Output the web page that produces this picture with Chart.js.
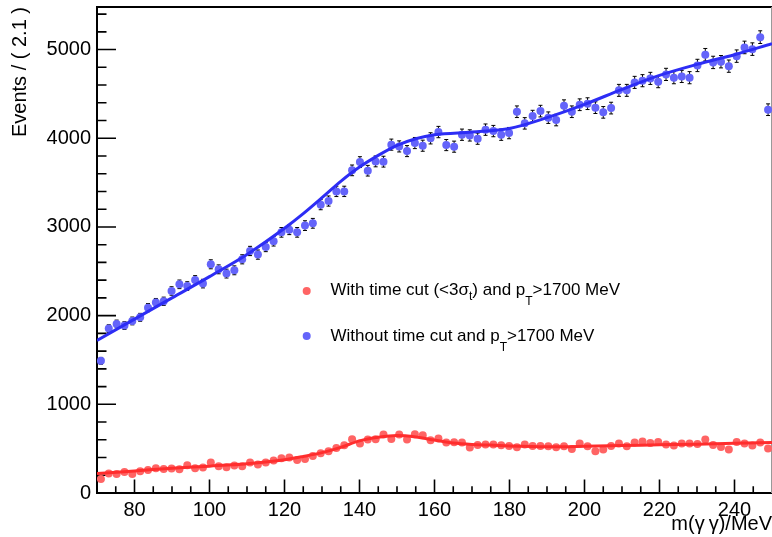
<!DOCTYPE html>
<html>
<head>
<meta charset="utf-8">
<script src="https://cdn.jsdelivr.net/npm/chart.js@4/dist/chart.umd.min.js"></script>
<style>
  html, body { margin: 0; padding: 0; background: #ffffff; }
  #wrap { width: 772px; height: 537px; }
</style>
</head>
<body>
<div id="wrap"><canvas id="c" width="772" height="537"></canvas></div>
<script>
// Diphoton invariant mass histogram: 86 bins between 70 and 250 MeV
const massLow = 70;
const massHigh = 250;
const nBins = 86;
const binCentres = Array.from({ length: nBins }, (_, i) => massLow + (i + 0.5) * (massHigh - massLow) / nBins);

// Events per bin, with the time cut (<3 sigma_t) and pT > 1700 MeV
const countsWithCut = [
  159, 220, 215, 238, 215, 246, 260, 280, 272, 276,
  268, 313, 280, 287, 344, 302, 291, 310, 302, 344,
  321, 344, 366, 392, 400, 373, 384, 418, 448, 470,
  508, 539, 606, 558, 603, 606, 659, 610, 659, 603,
  663, 651, 595, 614, 569, 573, 569, 513, 542, 547,
  547, 539, 531, 516, 547, 531, 531, 527, 517, 527,
  497, 558, 527, 471, 490, 531, 558, 527, 569, 580,
  565, 576, 547, 535, 558, 558, 553, 603, 542, 520,
  490, 576, 558, 535, 569, 501
];

// Events per bin, without the time cut, pT > 1700 MeV
const countsNoCut = [
  1490, 1854, 1906, 1888, 1940, 1981, 2090, 2147, 2162, 2278,
  2353, 2334, 2402, 2361, 2579, 2522, 2474, 2511, 2635, 2729,
  2688, 2774, 2838, 2939, 2968, 2939, 3015, 3041, 3251, 3292,
  3401, 3401, 3638, 3731, 3634, 3739, 3736, 3928, 3908, 3855,
  3946, 3916, 3999, 4070, 3923, 3905, 4040, 4032, 3995, 4097,
  4081, 4040, 4058, 4299, 4168, 4250, 4306, 4232, 4205, 4367,
  4299, 4378, 4390, 4345, 4292, 4340, 4540, 4540, 4630, 4649,
  4675, 4638, 4720, 4683, 4697, 4683, 4821, 4942, 4855, 4863,
  4813, 4926, 5024, 5005, 5140, 4322
];

// Fitted model curves (sampled along the mass axis)
const fitWithCutMass = [70, 80, 90, 100, 110, 120, 125, 130, 135, 140, 145, 150, 155, 160, 165, 170, 175, 180, 190, 200, 210, 220, 230, 240, 250];
const fitWithCutEvents = [220, 249, 280, 303, 330, 375, 412, 455, 515, 588, 628, 648, 632, 597, 563, 547, 540, 531, 522, 527, 535, 543, 551, 560, 570];

const fitNoCutMass = [70, 80, 90, 100, 110, 120, 125, 130, 135, 140, 145, 150, 155, 160, 170, 180, 190, 200, 210, 220, 230, 240, 250];
const fitNoCutEvents = [1720, 1960, 2200, 2440, 2690, 2985, 3150, 3330, 3514, 3675, 3807, 3920, 3995, 4040, 4070, 4110, 4232, 4382, 4551, 4709, 4833, 4942, 5066];

// Axis tick labels
const xTickLabels = [80, 100, 120, 140, 160, 180, 200, 220, 240];
const yTickLabels = [0, 1000, 2000, 3000, 4000, 5000];

const FONT = "'Liberation Sans', Arial, Helvetica, sans-serif";
const RED_MARK = 'rgb(255,100,100)';
const RED_LINE = 'rgb(255,45,45)';
const BLUE_MARK = 'rgb(100,100,250)';
const BLUE_LINE = 'rgb(45,45,245)';

// Frame with ROOT-style inward tick marks
const frameAndTicks = {
  id: 'frameAndTicks',
  beforeDatasetsDraw(chart) {
    const { ctx, chartArea: a, scales: { x, y } } = chart;
    ctx.save();
    ctx.strokeStyle = '#000';
    ctx.lineWidth = 1.6;
    ctx.beginPath();
    for (let v = 200; v <= 5400; v += 200) {
      const py = y.getPixelForValue(v);
      const len = v % 1000 === 0 ? 19 : 9.5;
      ctx.moveTo(a.left, py);
      ctx.lineTo(a.left + len, py);
    }
    for (let v = 75; v < 250; v += 5) {
      const px = x.getPixelForValue(v);
      const len = v % 20 === 0 ? 13.5 : 6.7;
      ctx.moveTo(px, a.bottom);
      ctx.lineTo(px, a.bottom - len);
    }
    ctx.stroke();
    ctx.lineWidth = 2;
    ctx.beginPath();
    ctx.moveTo(a.right, a.top);
    ctx.lineTo(a.left, a.top);
    ctx.lineTo(a.left, a.bottom);
    ctx.lineTo(a.right, a.bottom);
    ctx.stroke();
    ctx.strokeStyle = '#999';
    ctx.lineWidth = 1;
    ctx.beginPath();
    ctx.moveTo(a.right - 0.5, a.top);
    ctx.lineTo(a.right - 0.5, a.bottom);
    ctx.stroke();
    ctx.restore();
  }
};

// Poisson error bars (sqrt N) with small end caps, drawn beneath the markers
const errorBars = {
  id: 'errorBars',
  beforeDatasetsDraw(chart) {
    const { ctx, scales: { y } } = chart;
    ctx.save();
    ctx.strokeStyle = '#000';
    ctx.lineWidth = 1;
    chart.data.datasets.forEach((ds, di) => {
      if (!ds.errorBars) return;
      const meta = chart.getDatasetMeta(di);
      meta.data.forEach((pt, i) => {
        const v = ds.data[i].y;
        const e = Math.sqrt(v);
        const top = y.getPixelForValue(v + e);
        const bot = y.getPixelForValue(v - e);
        ctx.beginPath();
        ctx.moveTo(pt.x, top);
        ctx.lineTo(pt.x, bot);
        ctx.moveTo(pt.x - 2, top);
        ctx.lineTo(pt.x + 2, top);
        ctx.moveTo(pt.x - 2, bot);
        ctx.lineTo(pt.x + 2, bot);
        ctx.stroke();
      });
    });
    ctx.restore();
  }
};

// Legend with subscripts, placed inside the frame
const legendBox = {
  id: 'legendBox',
  afterDatasetsDraw(chart) {
    const { ctx } = chart;
    const main = '17px ' + FONT;
    const sub = '12px ' + FONT;
    const drawRich = (parts, x0, base) => {
      let x = x0;
      parts.forEach(p => {
        ctx.font = p.sub ? sub : main;
        ctx.fillText(p.t, x, base + (p.sub || 0));
        x += ctx.measureText(p.t).width;
      });
    };
    ctx.save();
    ctx.textBaseline = 'alphabetic';
    ctx.textAlign = 'left';

    ctx.fillStyle = RED_MARK;
    ctx.beginPath(); ctx.arc(306.7, 291, 4, 0, Math.PI * 2); ctx.fill();
    ctx.fillStyle = BLUE_MARK;
    ctx.beginPath(); ctx.arc(306.7, 336, 4, 0, Math.PI * 2); ctx.fill();

    ctx.fillStyle = '#000';
    drawRich([
      { t: 'With time cut (<3σ' },
      { t: 't', sub: 5 },
      { t: ') and p' },
      { t: 'T', sub: 10 },
      { t: '>1700 MeV' }
    ], 330.5, 295);
    drawRich([
      { t: 'Without time cut and p' },
      { t: 'T', sub: 10 },
      { t: '>1700 MeV' }
    ], 330.5, 341);
    ctx.restore();
  }
};

const pointsWithCut = binCentres.map((m, i) => ({ x: m, y: countsWithCut[i] }));
const pointsNoCut = binCentres.map((m, i) => ({ x: m, y: countsNoCut[i] }));
const curveWithCut = fitWithCutMass.map((m, i) => ({ x: m, y: fitWithCutEvents[i] }));
const curveNoCut = fitNoCutMass.map((m, i) => ({ x: m, y: fitNoCutEvents[i] }));

new Chart(document.getElementById('c'), {
  type: 'scatter',
  data: {
    datasets: [
      {
        type: 'line', label: 'fit no cut', data: curveNoCut,
        borderColor: BLUE_LINE, borderWidth: 3, pointRadius: 0,
        cubicInterpolationMode: 'monotone', fill: false
      },
      {
        type: 'line', label: 'fit with cut', data: curveWithCut,
        borderColor: RED_LINE, borderWidth: 3, pointRadius: 0,
        cubicInterpolationMode: 'monotone', fill: false
      },
      {
        label: 'Without time cut and pT>1700 MeV', data: pointsNoCut,
        backgroundColor: BLUE_MARK, borderWidth: 0, pointRadius: 4,
        errorBars: true
      },
      {
        label: 'With time cut (<3σt) and pT>1700 MeV', data: pointsWithCut,
        backgroundColor: RED_MARK, borderWidth: 0, pointRadius: 4,
        errorBars: true
      }
    ]
  },
  options: {
    responsive: false,
    animation: false,
    devicePixelRatio: 1,
    layout: { autoPadding: false, padding: { top: 7, left: 0, right: 0, bottom: 0 } },
    plugins: { legend: { display: false }, tooltip: { enabled: false } },
    scales: {
      x: {
        type: 'linear', min: massLow, max: massHigh, position: 'bottom',
        grid: { display: false, drawTicks: false },
        border: { display: false },
        afterBuildTicks: s => { s.ticks = xTickLabels.map(v => ({ value: v })); },
        afterFit: s => { s.height = 44; s.paddingLeft = 0; s.paddingRight = 0; },
        ticks: {
          color: '#000', font: { family: FONT, size: 20 }, padding: 5,
          maxRotation: 0, autoSkip: false, callback: v => String(v)
        },
        title: {
          display: true, text: 'm(γ\u2009γ)/MeV', align: 'end', color: '#000',
          font: { family: FONT, size: 20 }, padding: { top: 0, bottom: 1 }
        }
      },
      y: {
        type: 'linear', min: 0, max: 5480, position: 'left',
        grid: { display: false, drawTicks: false },
        border: { display: false },
        afterBuildTicks: s => { s.ticks = yTickLabels.map(v => ({ value: v })); },
        afterFit: s => { s.width = 97; s.paddingTop = 0; s.paddingBottom = 0; },
        ticks: { color: '#000', font: { family: FONT, size: 20 }, padding: 6, callback: v => String(v) },
        title: {
          display: true, text: 'Events / ( 2.1 )', align: 'end', color: '#000',
          font: { family: FONT, size: 20 }, padding: { top: 8, bottom: 0 }
        }
      }
    }
  },
  plugins: [frameAndTicks, errorBars, legendBox]
});
</script>
</body>
</html>
